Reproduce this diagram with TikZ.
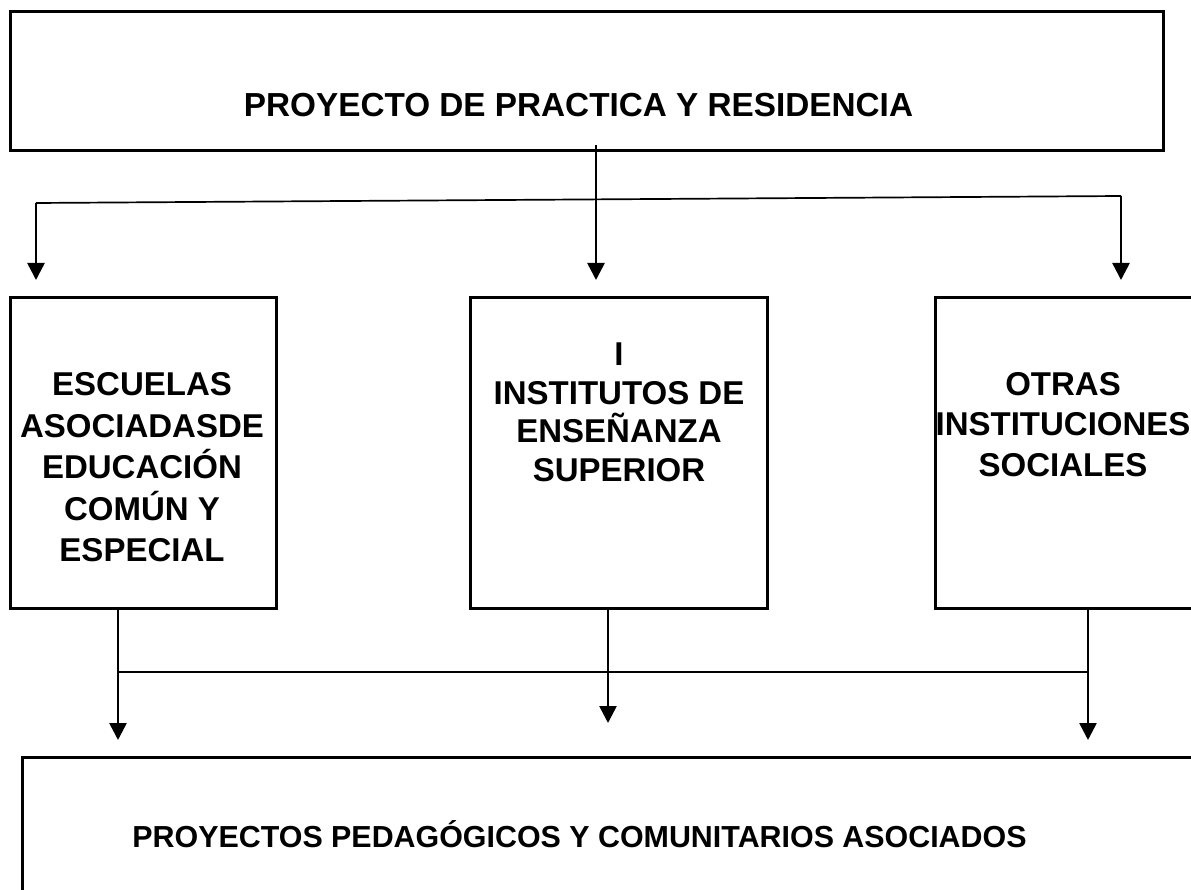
\documentclass[tikz,border=0pt]{standalone}
\usepackage{fontspec}
\setmainfont{Liberation Sans}
\usetikzlibrary{arrows.meta}
\begin{document}
\begin{tikzpicture}[x=1pt,y=-1pt,
  box/.style={draw=black,line width=3pt,inner sep=0pt,outer sep=0pt},
  lbl/.style={inner sep=0pt,align=center},
  conn/.style={line width=2.6pt,-{Triangle[length=17pt,width=17pt]}},
  thinln/.style={line width=1.7pt}]
\useasboundingbox (0,0) rectangle (1191,890);
\clip (0,0) rectangle (1191,890);
\fill[white] (0,0) rectangle (1191,890);
% boxes
\node[box,minimum width=1153pt,minimum height=139pt] (top) at (586.5,81.5) {};
\node[box,minimum width=266pt,minimum height=310pt] (left) at (143,453) {};
\node[box,minimum width=297pt,minimum height=310pt] (mid) at (618.5,453) {};
\node[box,minimum width=260pt,minimum height=310pt] (right) at (1065,453) {};
\node[box,minimum width=1178pt,minimum height=143pt] (bot) at (611,828.5) {};
% texts
\node[lbl,font=\bfseries\fontsize{33.3}{40}\selectfont] (ttop) at (578.5,105) {PROYECTO DE PRACTICA Y RESIDENCIA};
\node[lbl,font=\bfseries\fontsize{33}{41.5}\selectfont] (tleft) at (142,467.5) {ESCUELAS\\ASOCIADASDE\\EDUCACIÓN\\COMÚN Y\\ESPECIAL};
\node[lbl,font=\bfseries\fontsize{33}{38.5}\selectfont] (tmid) at (619,412.5) {I\\INSTITUTOS DE\\ENSEÑANZA\\SUPERIOR};
\node[lbl,font=\bfseries\fontsize{33}{40.5}\selectfont] (tright) at (1063,424.5) {OTRAS\\INSTITUCIONES\\SOCIALES};
\node[lbl,font=\bfseries\fontsize{30.4}{36}\selectfont] (tbot) at (579.5,834) {PROYECTOS PEDAGÓGICOS Y COMUNITARIOS ASOCIADOS};
% top connectors
\coordinate (src) at (596,145);
\coordinate (hL) at (36,203);
\coordinate (hM) at (596,200);
\coordinate (hR) at (1121,196);
\coordinate (tL) at (36,280);
\coordinate (tM) at (596,280);
\coordinate (tR) at (1121,280);
\draw[thinln] (src) -- (hM);
\draw[thinln] (hL) -- (hR);
\draw[conn] (hL) -- (tL);
\draw[conn] (hM) -- (tM);
\draw[conn] (hR) -- (tR);
% bottom connectors
\coordinate (sL) at (118,609);
\coordinate (sM) at (608,609);
\coordinate (sR) at (1088,609);
\coordinate (jL) at (118,672);
\coordinate (jR) at (1088,672);
\coordinate (uL) at (118,740);
\coordinate (uM) at (608,723);
\coordinate (uR) at (1088,740);
\draw[thinln] (jL) -- (jR);
\draw[conn] (sL) -- (uL);
\draw[conn] (sM) -- (uM);
\draw[conn] (sR) -- (uR);
\end{tikzpicture}
\end{document}
